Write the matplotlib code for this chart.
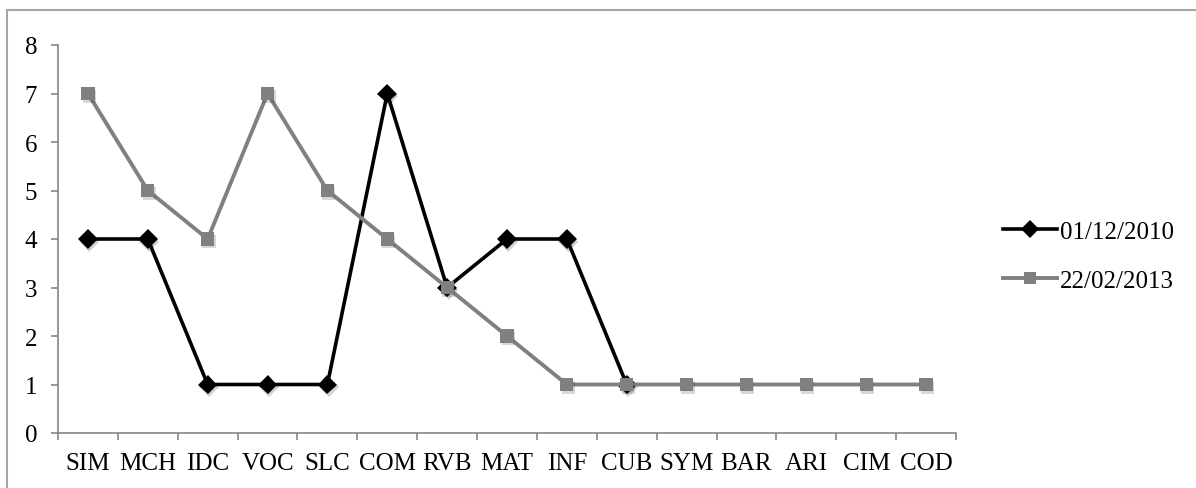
import matplotlib
matplotlib.use('Agg')
import matplotlib.pyplot as plt
import matplotlib.patheffects as pe
from matplotlib.patches import Rectangle
from matplotlib.lines import Line2D
import numpy as np

# ── Data ──────────────────────────────────────────────────────────────────────
categories = ['SIM', 'MCH', 'IDC', 'VOC', 'SLC', 'COM', 'RVB', 'MAT',
              'INF', 'CUB', 'SYM', 'BAR', 'ARI', 'CIM', 'COD']
series_2010 = [4, 4, 1, 1, 1, 7, 3, 4, 4, 1, np.nan, np.nan, np.nan, np.nan, np.nan]
series_2013 = [7, 5, 4, 7, 5, 4, 3, 2, 1, 1, 1, 1, 1, 1, 1]
label_2010 = '01/12/2010'
label_2013 = '22/02/2013'
y_ticks = list(range(0, 9))

# ── Style ─────────────────────────────────────────────────────────────────────
FONT = 'Liberation Serif'
FS = 18
COLOR_BLACK = '#000000'
COLOR_GRAY = '#808080'
COLOR_SPINE = '#868686'
W, H = 1196, 489

plt.rcParams.update({
    'font.family': FONT,
    'font.size': FS,
})

fig = plt.figure(figsize=(W / 100, H / 100), dpi=100)
fig.patch.set_facecolor('white')

# outer chart border (only top/left visible in the crop)
fig.patches.append(Rectangle((7 / W, -0.1), 1.2, 1 - 11 / H + 0.1,
                             transform=fig.transFigure, fill=False,
                             edgecolor='#a6a6a6', linewidth=1.5))

ax = fig.add_axes([58 / W, 1 - 434 / H, (956 - 58) / W, (434 - 46) / H])

x = np.arange(len(categories))
shadow = [pe.SimplePatchShadow(offset=(1.0, -2.0), alpha=0.18), pe.Normal()]

ax.plot(x, series_2010, color=COLOR_BLACK, linewidth=2.6, zorder=3)
ax.plot(x, series_2010, linestyle='none', marker='D', markersize=10,
        color=COLOR_BLACK, markeredgewidth=0, zorder=4, path_effects=shadow)
ax.plot(x, series_2013, color=COLOR_GRAY, linewidth=2.8, zorder=5)
ax.plot(x, series_2013, linestyle='none', marker='s', markersize=9.5,
        color=COLOR_GRAY, markeredgewidth=0, zorder=6, path_effects=shadow)

ax.set_xlim(-0.5, len(categories) - 0.5)
ax.set_ylim(0, 8)
ax.set_yticks(y_ticks)

# category labels centred, tick marks between categories
ax.set_xticks(np.arange(-0.5, len(categories)), minor=False)
ax.set_xticklabels([])
ax.set_xticks(x, minor=True)
ax.set_xticklabels(categories, minor=True)
ax.tick_params(axis='x', which='minor', length=0, pad=14, labelsize=FS)
ax.tick_params(axis='x', which='major', length=5, width=1.2,
               color=COLOR_SPINE, direction='out')
ax.tick_params(axis='y', length=5, width=1.2, color=COLOR_SPINE,
               direction='out', pad=10, labelsize=FS)

for s in ('top', 'right'):
    ax.spines[s].set_visible(False)
for s in ('left', 'bottom'):
    ax.spines[s].set_color(COLOR_SPINE)
    ax.spines[s].set_linewidth(1.2)

# legend
handles = [
    Line2D([0], [0], color=COLOR_BLACK, linewidth=2.6, marker='D',
           markersize=9, markeredgewidth=0, label=label_2010),
    Line2D([0], [0], color=COLOR_GRAY, linewidth=2.8, marker='s',
           markersize=9, markeredgewidth=0, label=label_2013),
]
fig.legend(handles=handles, loc='center left',
           bbox_to_anchor=(1003 / W, 1 - 257 / H), frameon=False,
           fontsize=FS, handlelength=2.15, handletextpad=0.12,
           labelspacing=1.05, borderpad=0, borderaxespad=0)

fig.savefig('out.png', dpi=100, facecolor='white')
